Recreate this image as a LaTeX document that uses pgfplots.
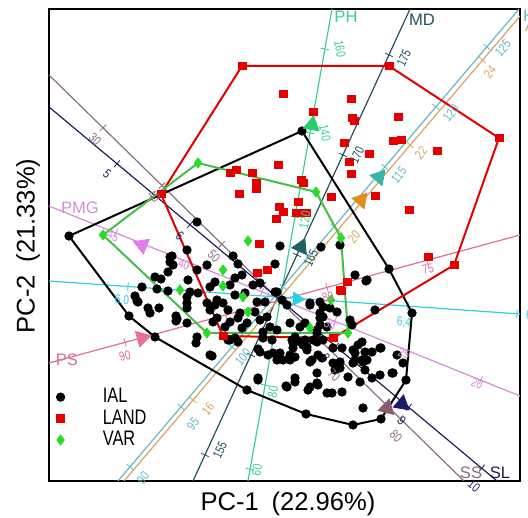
\documentclass[border=0pt]{standalone}
\usepackage{fontspec}
\setmainfont{Liberation Sans}
\newfontfamily\narrowfont[FakeStretch=0.78]{Liberation Sans}
\usepackage{pgfplots}
\pgfplotsset{compat=1.18}

\definecolor{landred}{RGB}{228,0,0}
\definecolor{vargreen}{RGB}{40,220,40}
\definecolor{varline}{RGB}{70,190,70}
\definecolor{phc}{RGB}{60,205,150}
\definecolor{mdc}{RGB}{35,80,95}
\definecolor{tealc}{RGB}{100,185,200}
\definecolor{orc}{RGB}{215,165,95}
\definecolor{psc}{RGB}{225,110,150}
\definecolor{pmgc}{RGB}{215,140,215}
\definecolor{cyc}{RGB}{50,205,225}
\definecolor{ssc}{RGB}{140,110,130}
\definecolor{slc}{RGB}{30,30,90}

\newcommand{\lbl}{\narrowfont\fontsize{6.5}{7}\selectfont}
\newcommand{\nm}{\fontsize{8.3}{9}\selectfont}

\begin{document}
\begin{tikzpicture}
\begin{axis}[
  scale only axis, width=235.5pt, height=236pt,
  xmin=49, xmax=520, ymin=9, ymax=481, y dir=reverse,
  xtick=\empty, ytick=\empty,
  axis line style={line width=1pt},
  clip mode=individual,
  legend style={at={(axis cs:50,380)}, anchor=north west, draw=none, fill=none,
    font=\narrowfont\fontsize{10.5}{12}\selectfont, row sep=-2pt},
  legend cell align=left,
]
% biplot axes
\addplot[phc, line width=0.6pt, forget plot] coordinates {(332,9)(248,481)};
\addplot[mdc, line width=0.6pt, forget plot] coordinates {(410,9)(193,481)};
\addplot[tealc, line width=0.6pt, forget plot] coordinates {(519,9)(118,481)};
\addplot[orc, line width=0.6pt, forget plot] coordinates {(521,15)(124,481)};
\addplot[psc, line width=0.6pt, forget plot] coordinates {(49,363)(520,235)};
\addplot[pmgc, line width=0.6pt, forget plot] coordinates {(49,206)(520,396)};
\addplot[cyc, line width=0.6pt, forget plot] coordinates {(49,281)(520,314)};
\addplot[ssc, line width=0.6pt, forget plot] coordinates {(49,75)(464,481)};
\addplot[slc, line width=0.6pt, forget plot] coordinates {(49,107)(497,481)};

% calibration ticks
\addplot[only marks, mark=|, mark size=2.2pt, mark options={phc, rotate=79.9}, forget plot] coordinates {(324.9,49)(310,133)(295,217)(280,301)(265,385)(250,469)};
\addplot[only marks, mark=|, mark size=2.2pt, mark options={mdc, rotate=65.3}, forget plot] coordinates {(389,55)(343,155)(297,255)(251,355)(205,455)};
\addplot[only marks, mark=|, mark size=2.2pt, mark options={tealc, rotate=49.7}, forget plot] coordinates {(487,47)(436,107)(385,167)(334,227)(283,287)(232,347)(181,407)(130,467)};
\addplot[only marks, mark=|, mark size=2.2pt, mark options={orc, rotate=49.6}, forget plot] coordinates {(482.5,60)(410,145)(338,230)(265,315)(193,400)};
\addplot[only marks, mark=|, mark size=2.2pt, mark options={psc, rotate=15.2}, forget plot] coordinates {(125,342.3)(226,314.9)(327,287.4)(427,260.3)};
\addplot[only marks, mark=|, mark size=2.2pt, mark options={pmgc, rotate=-22}, forget plot] coordinates {(116,233)(189,262.5)(262,292)(335,321)(408,351)(481,380)};
\addplot[only marks, mark=|, mark size=2.2pt, mark options={cyc, rotate=-4}, forget plot] coordinates {(128,286.5)(268,296)(408,306)(517,313.8)};
\addplot[only marks, mark=|, mark size=2.2pt, mark options={ssc, rotate=-44.4}, forget plot] coordinates {(103,127.8)(162,185.5)(222,244.2)(281,302)(341,360.7)(400,418.4)};
\addplot[only marks, mark=|, mark size=2.2pt, mark options={slc, rotate=-39.8}, forget plot] coordinates {(117,163.7)(190,224.6)(263,285.4)(336,346.3)(409,407.1)(482,468)};

% hulls
\addplot[black, line width=1pt, forget plot] coordinates {(69,236)(302,131)(389,269)(412,313)(406,380)(381,419)(353,425)(306,414)(247,390)(155,337)(129,316)(69,236)};
\addplot[landred, line width=1pt, forget plot] coordinates {(242,66)(389,66)(499,138)(454,265)(333,338)(223,336)(161,194)(242,66)};
\addplot[varline, line width=1pt, forget plot] coordinates {(103,235)(198,163)(316,192)(341,238)(348,333)(207,333)(103,235)};

% IAL
\addplot[only marks, mark=*, mark size=2.1pt, black] coordinates {
(69,236)(302,131)(389,269)(412,313)(406,380)(381,419)(353,425)(306,414)(247,390)(155,337)(129,316)
(197,222)(187,250)(170,257)(233,256)(238,264)(275,264)(280,246)(321,247)(340,245)(355,275)(366,281)
(173,265)(168,272)(207,265)(197,270)(155,277)(161,279)(142,287)(157,289)(168,291)(190,292)(198,293)
(187,297)(135,296)(138,302)(148,308)(150,313)(159,308)(176,316)(176,321)(187,303)(187,308)(187,323)
(196,343)(212,356)(210,287)(215,282)(207,303)(210,310)(213,322)(188,280)(172,256)(170,262)(137,301)
(177,319)(258,349)(258,378)(238,342)(230,340)
(235,278)(242,275)(230,285)(253,285)(260,283)(235,295)(245,293)(275,292)(217,300)(223,303)(215,305)
(228,310)(257,302)(265,302)(282,300)(287,305)(310,305)(320,302)(240,313)(255,312)(260,320)(267,317)
(217,318)(230,322)(238,318)(247,323)(225,327)(242,328)(270,327)(277,330)(263,332)(290,323)(300,327)
(320,318)(327,327)(317,330)(228,340)(235,338)(263,338)(272,340)(292,340)(300,342)(307,347)(317,342)
(293,348)(307,350)(280,353)(260,352)(268,355)(210,355)(310,362)(290,360)(277,360)(277,292)(197,337)
(367,280)(310,303)(323,307)(330,308)(337,312)(320,313)(323,317)(350,320)(352,325)(375,310)(305,323)
(320,325)(317,333)(295,337)(305,340)(313,340)(323,340)(293,343)(303,345)(333,348)(342,348)(362,342)
(358,345)(353,350)(355,353)(372,352)(380,348)(295,357)(312,360)(322,358)(333,363)(340,362)(355,360)
(362,360)(367,360)(397,355)(403,363)(340,368)(335,370)(365,370)(380,375)(317,373)(348,377)
(273,353)(283,360)(290,355)(318,355)(337,367)(353,363)(363,362)(393,373)(295,378)(295,382)(287,387)
(317,383)(310,387)(308,390)(318,385)(327,393)(332,393)(342,392)(360,382)(372,378)(258,380)(363,408)
(365,352)(381,348)(392,373)(286,386)
};
\addlegendentry{\hspace*{17pt}IAL}

% LAND
\addplot[only marks, mark=square*, mark size=1.95pt, landred] coordinates {
(242,66)(389,66)(499,138)(454,265)(333,338)(223,336)(161,194)
(283,94)(351,99)(313,112)(352,118)(354,121)(398,117)(344,143)(393,141)(401,140)(437,151)(369,154)
(349,162)(278,165)(351,174)(301,180)(303,183)(375,196)(331,197)(298,202)(409,210)(279,207)(283,212)
(296,213)(302,213)(306,213)(276,219)(428,257)(230,173)(236,170)(252,173)(256,183)(256,189)(239,194)
(259,244)(257,273)(267,270)(340,290)(347,282)(341,291)
};
\addlegendentry{\hspace*{17pt}LAND}

% VAR
\addplot[only marks, mark=diamond*, mark size=2.5pt, vargreen] coordinates {
(103,235)(198,163)(316,192)(341,238)(348,333)(207,333)(248,241)(223,270)(223,286)(180,290)(248,312)
(310,328)(331,300)(243,297)
};
\addlegendentry{\hspace*{17pt}VAR}

% direction arrows
\addplot[only marks, mark=triangle*, mark size=4.6pt, mark options={rotate=-10.1}, color={rgb,255:red,40;green,205;blue,110}, forget plot] coordinates {(312,125)};
\addplot[only marks, mark=triangle*, mark size=4.6pt, mark options={rotate=-24.7}, color={rgb,255:red,30;green,95;blue,100}, forget plot] coordinates {(301,247)};
\addplot[only marks, mark=triangle*, mark size=4.6pt, mark options={rotate=-40.3}, color={rgb,255:red,60;green,180;blue,170}, forget plot] coordinates {(379,177)};
\addplot[only marks, mark=triangle*, mark size=4.6pt, mark options={rotate=-40.4}, color={rgb,255:red,225;green,140;blue,30}, forget plot] coordinates {(361,200)};
\addplot[only marks, mark=triangle*, mark size=4.6pt, mark options={rotate=-74.8}, color={rgb,255:red,232;green,112;blue,154}, forget plot] coordinates {(142,338)};
\addplot[only marks, mark=triangle*, mark size=4.6pt, mark options={rotate=68}, color={rgb,255:red,225;green,125;blue,230}, forget plot] coordinates {(142,245)};
\addplot[only marks, mark=triangle*, mark size=3.8pt, mark options={rotate=-94}, color={rgb,255:red,40;green,210;blue,225}, forget plot] coordinates {(297,299)};
\addplot[only marks, mark=triangle*, mark size=4.6pt, mark options={rotate=-134.4}, color={rgb,255:red,135;green,90;blue,115}, forget plot] coordinates {(387,408)};
\addplot[only marks, mark=triangle*, mark size=4.6pt, mark options={rotate=-129.8}, color={rgb,255:red,25;green,25;blue,110}, forget plot] coordinates {(402,404)};

% variable names
\node[font=\nm, text=phc] at (axis cs:346,17) {PH};
\node[font=\nm, text=mdc] at (axis cs:422,20) {MD};
\node[font=\nm, text=tealc, anchor=west] at (axis cs:516,16) {H};
\node[font=\nm, text=orc, anchor=west] at (axis cs:518,26) {A};
\node[font=\nm, text=pmgc] at (axis cs:80,208) {PMG};
\node[font=\nm, text=psc] at (axis cs:67,360) {PS};
\node[font=\nm, text=ssc] at (axis cs:471,473) {SS};
\node[font=\nm, text=slc] at (axis cs:500,473) {SL};

% calibration labels
\node[font=\lbl, text=phc, rotate=-80] at (axis cs:340,49) {160};
\node[font=\lbl, text=phc, rotate=-80] at (axis cs:325,133) {140};
\node[font=\lbl, text=phc, rotate=80] at (axis cs:305,220) {120};
\node[font=\lbl, text=phc, rotate=80] at (axis cs:273,392) {80};
\node[font=\lbl, text=phc, rotate=80] at (axis cs:257,470) {60};
\node[font=\lbl, text=mdc, rotate=65] at (axis cs:404,58) {175};
\node[font=\lbl, text=mdc, rotate=65] at (axis cs:357,155) {170};
\node[font=\lbl, text=mdc, rotate=65] at (axis cs:311,258) {165};
\node[font=\lbl, text=mdc, rotate=65] at (axis cs:220,450) {155};
\node[font=\lbl, text=tealc, rotate=50] at (axis cs:503,48) {125};
\node[font=\lbl, text=tealc, rotate=50] at (axis cs:451,113) {120};
\node[font=\lbl, text=tealc, rotate=50] at (axis cs:399,175) {115};
\node[font=\lbl, text=tealc, rotate=50] at (axis cs:243,357) {100};
\node[font=\lbl, text=tealc, rotate=50] at (axis cs:193,424) {95};
\node[font=\lbl, text=tealc, rotate=50] at (axis cs:143,478) {90};
\node[font=\lbl, text=orc, rotate=50] at (axis cs:490,72) {24};
\node[font=\lbl, text=orc, rotate=50] at (axis cs:421,153) {22};
\node[font=\lbl, text=orc, rotate=50] at (axis cs:354,237) {20};
\node[font=\lbl, text=orc, rotate=50] at (axis cs:208,409) {16};
\node[font=\lbl, text=psc, rotate=15] at (axis cs:125,356) {90};
\node[font=\lbl, text=psc, rotate=15] at (axis cs:328,297) {80};
\node[font=\lbl, text=psc, rotate=15] at (axis cs:428,269) {75};
\node[font=\lbl, text=pmgc, rotate=-22] at (axis cs:113,236) {45};
\node[font=\lbl, text=pmgc, rotate=-22] at (axis cs:184,264) {40};
\node[font=\lbl, text=pmgc, rotate=-22] at (axis cs:330,324) {30};
\node[font=\lbl, text=pmgc, rotate=-22] at (axis cs:404,353) {25};
\node[font=\lbl, text=pmgc, rotate=-22] at (axis cs:477,383) {20};
\node[font=\lbl, text=cyc, rotate=-4] at (axis cs:122,300) {6.0};
\node[font=\lbl, text=cyc, rotate=-4] at (axis cs:404,322) {6.4};
\node[font=\lbl, text=cyc, anchor=west] at (axis cs:519,315) {6};
\node[font=\lbl, text=ssc, rotate=-44] at (axis cs:95,139) {30};
\node[font=\lbl, text=ssc, rotate=-44] at (axis cs:154,196) {40};
\node[font=\lbl, text=ssc, rotate=-44] at (axis cs:214,256) {50};
\node[font=\lbl, text=ssc, rotate=-44] at (axis cs:334,375) {70};
\node[font=\lbl, text=ssc, rotate=-44] at (axis cs:396,436) {80};
\node[font=\lbl, text=slc, rotate=-40] at (axis cs:107,174) {5};
\node[font=\lbl, text=slc, rotate=-40] at (axis cs:180,236) {6};
\node[font=\lbl, text=slc, rotate=-40] at (axis cs:326,358) {8};
\node[font=\lbl, text=slc, rotate=-40] at (axis cs:402,421) {9};
\node[font=\lbl, text=slc, rotate=-40] at (axis cs:474,486) {10};

% axis titles
\node[font=\fontsize{12.8}{14}\selectfont] at (axis cs:288,504) {PC-1\enspace(22.96\%)};
\node[font=\fontsize{12.8}{14}\selectfont, rotate=90] at (axis cs:28,246) {PC-2\enspace(21.33\%)};

\coordinate (bbA) at (axis cs:0,0);
\coordinate (bbB) at (axis cs:528,518);
\end{axis}
\pgfresetboundingbox
\path[use as bounding box] (bbA) rectangle (bbB);
\end{tikzpicture}
\end{document}
